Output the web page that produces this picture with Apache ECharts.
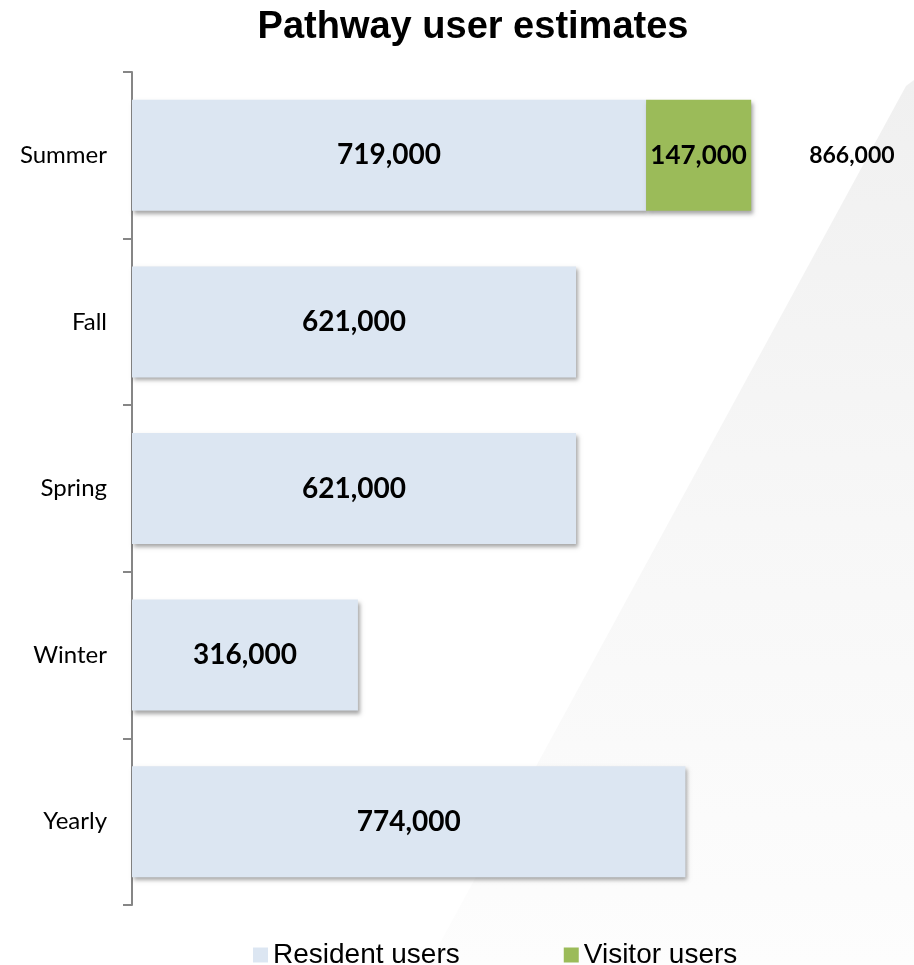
<!DOCTYPE html>
<html>
<head>
<meta charset="utf-8">
<title>Pathway user estimates</title>
<script src="https://cdn.jsdelivr.net/npm/echarts@6/dist/echarts.min.js"></script>
<style>
  html, body { margin: 0; padding: 0; background: #fff; }
  #main { width: 914px; height: 965px; }
</style>
</head>
<body>
<div id="main"></div>
<script>
var categories = ['Summer', 'Fall', 'Spring', 'Winter', 'Yearly'];
var residentUsers = [719000, 621000, 621000, 316000, 774000];
var visitorUsers = [147000, null, null, null, null];
var totalUsers = [866000, null, null, null, null];

function fmt(v) {
  return Number(v).toLocaleString('en-US');
}

var chartDom = document.getElementById('main');
var myChart = echarts.init(chartDom);
var option;

var barShadow = {
  shadowColor: 'rgba(0,0,0,0.35)',
  shadowBlur: 4,
  shadowOffsetX: 2,
  shadowOffsetY: 3
};

option = {
  backgroundColor: '#fff',
  animation: false,
  title: {
    text: 'Pathway user estimates',
    left: 468,
    top: 4,
    textAlign: 'center',
    textStyle: {
      fontFamily: 'Liberation Sans',
      fontSize: 38,
      fontWeight: 'bold',
      color: '#000'
    }
  },
  // light grey wedge in the background
  graphic: [
    {
      type: 'polygon',
      z: -10,
      silent: true,
      shape: {
        points: [[906, 86], [914, 80], [914, 965], [428, 965]]
      },
      style: {
        fill: new echarts.graphic.LinearGradient(0, 0, 0, 1, [
          { offset: 0, color: '#f0f0f0' },
          { offset: 0.5, color: '#f7f7f7' },
          { offset: 1, color: '#fdfdfd' }
        ])
      }
    }
  ],
  legend: {
    data: ['Resident users', 'Visitor users'],
    left: 248,
    top: 936,
    icon: 'rect',
    itemWidth: 15,
    itemHeight: 15,
    itemGap: 104,
    textStyle: {
      fontFamily: 'Liberation Sans',
      fontSize: 28,
      color: '#000'
    }
  },
  grid: {
    left: 132,
    right: 67,
    top: 72,
    bottom: 60
  },
  xAxis: {
    type: 'value',
    min: 0,
    max: 1000000,
    show: false
  },
  yAxis: {
    type: 'category',
    inverse: true,
    data: categories,
    axisLine: {
      show: true,
      lineStyle: { color: '#868686', width: 2 }
    },
    axisTick: {
      show: true,
      length: 9,
      lineStyle: { color: '#868686', width: 2 }
    },
    axisLabel: {
      margin: 25,
      fontFamily: 'Lato',
      fontSize: 24,
      color: '#000'
    }
  },
  series: [
    {
      name: 'Resident users',
      type: 'bar',
      stack: 'users',
      barWidth: 111,
      data: residentUsers,
      itemStyle: Object.assign({ color: '#dce6f2' }, barShadow),
      label: {
        show: true,
        position: 'inside',
        formatter: function (p) { return fmt(p.value); },
        fontFamily: 'Lato',
        fontWeight: 'bold',
        fontSize: 28,
        color: '#000'
      }
    },
    {
      name: 'Visitor users',
      type: 'bar',
      stack: 'users',
      barWidth: 111,
      data: visitorUsers,
      itemStyle: Object.assign({ color: '#9bbb59' }, barShadow),
      label: {
        show: true,
        position: 'inside',
        formatter: function (p) { return fmt(p.value); },
        fontFamily: 'Lato',
        fontWeight: 'bold',
        fontSize: 26,
        color: '#000'
      }
    },
    {
      // invisible bar that only carries the total label
      name: 'Total',
      type: 'bar',
      barWidth: 111,
      barGap: '-100%',
      data: totalUsers,
      silent: true,
      itemStyle: { color: 'rgba(0,0,0,0)' },
      label: {
        show: true,
        position: 'right',
        distance: 58,
        formatter: function (p) { return fmt(p.value); },
        fontFamily: 'Lato',
        fontWeight: 'bold',
        fontSize: 23,
        color: '#000'
      }
    }
  ]
};

option && myChart.setOption(option);
</script>
</body>
</html>
